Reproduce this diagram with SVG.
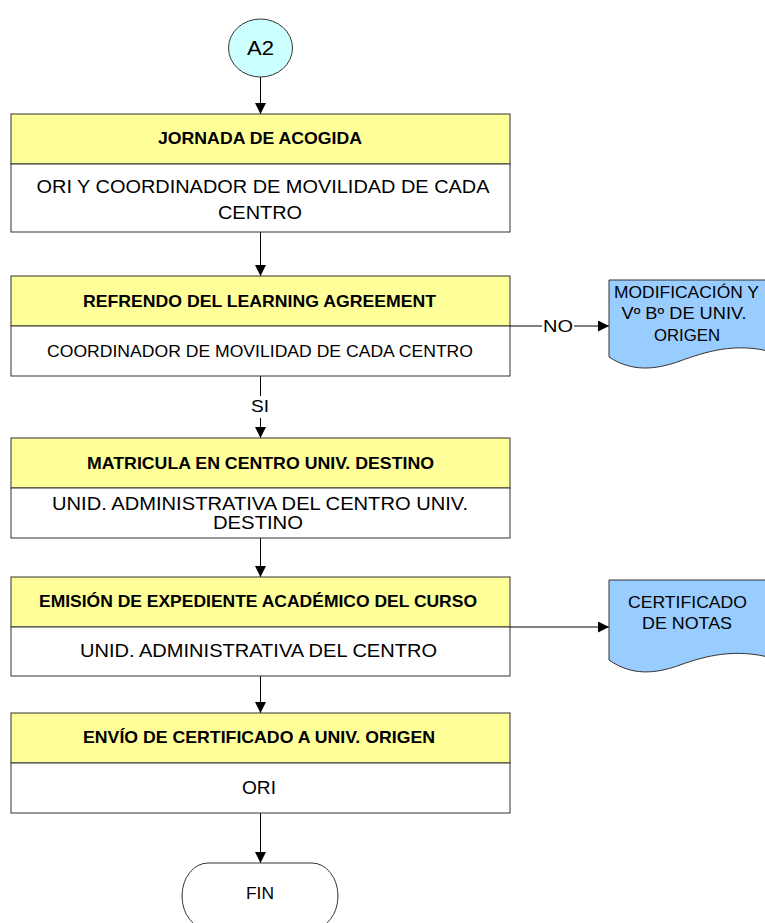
<svg xmlns="http://www.w3.org/2000/svg" width="765" height="923" viewBox="0 0 765 923">
<defs>
<marker id="arr" markerUnits="userSpaceOnUse" markerWidth="12" markerHeight="12" refX="11" refY="5.5" orient="auto">
<path d="M0,0 L11,5.5 L0,11 Z" fill="#000"/>
</marker>
<style>
.hd{fill:#FFFF99;stroke:#333;stroke-width:1}
.bd{fill:#FFFFFF;stroke:#333;stroke-width:1}
.doc{fill:#99CCFF;stroke:#333;stroke-width:1}
.ln{fill:none;stroke:#000;stroke-width:1}
.ar{fill:none;stroke:#000;stroke-width:1;marker-end:url(#arr)}
.t{font-family:"Liberation Sans",Arial,sans-serif;fill:#000;text-anchor:middle}
.ti{font-size:16.5px;font-weight:bold}
.b{font-size:17.5px}
.s{font-size:16.5px}
</style>
</defs>
<rect width="765" height="923" fill="#fff"/>
<g id="connectors">
<line class="ar" x1="260.5" y1="77" x2="260.5" y2="114"/>
<line class="ar" x1="260.5" y1="232" x2="260.5" y2="276"/>
<line class="ln" x1="260.5" y1="376" x2="260.5" y2="396"/>
<line class="ar" x1="260.5" y1="418" x2="260.5" y2="438"/>
<text class="t s" x="260" y="412" textLength="18" lengthAdjust="spacingAndGlyphs">SI</text>
<line class="ln" x1="510" y1="326" x2="542" y2="326"/>
<text class="t s" x="558" y="332" textLength="30" lengthAdjust="spacingAndGlyphs">NO</text>
<line class="ar" x1="574" y1="326" x2="609" y2="326"/>
<line class="ar" x1="260.5" y1="538" x2="260.5" y2="577"/>
<line class="ar" x1="510" y1="627" x2="609" y2="627"/>
<line class="ar" x1="260.5" y1="676" x2="260.5" y2="713"/>
<line class="ar" x1="260.5" y1="813" x2="260.5" y2="863"/>
</g>
<g id="start">
<ellipse cx="260.5" cy="48" rx="32" ry="29" fill="#CCFFFF" stroke="#333"/>
<text class="t" x="260.5" y="55" font-size="20" textLength="27" lengthAdjust="spacingAndGlyphs">A2</text>
</g>
<g id="n1">
<rect class="hd" x="11" y="114" width="499" height="50"/>
<rect class="bd" x="11" y="164" width="499" height="68"/>
<text class="t ti" x="260" y="144" textLength="204" lengthAdjust="spacingAndGlyphs">JORNADA DE ACOGIDA</text>
<text class="t b" x="263" y="193" textLength="453" lengthAdjust="spacingAndGlyphs">ORI Y COORDINADOR DE MOVILIDAD DE CADA</text>
<text class="t b" x="260" y="219" textLength="84" lengthAdjust="spacingAndGlyphs">CENTRO</text>
</g>
<g id="n2">
<rect class="hd" x="11" y="276" width="499" height="50"/>
<rect class="bd" x="11" y="326" width="499" height="50"/>
<text class="t ti" x="259.5" y="307" textLength="353" lengthAdjust="spacingAndGlyphs">REFRENDO DEL LEARNING AGREEMENT</text>
<text class="t b" x="260" y="357" textLength="426" lengthAdjust="spacingAndGlyphs" style="font-size:16.5px">COORDINADOR DE MOVILIDAD DE CADA CENTRO</text>
</g>
<g id="n3">
<rect class="hd" x="11" y="438" width="499" height="50"/>
<rect class="bd" x="11" y="488" width="499" height="50"/>
<text class="t ti" x="260.5" y="469" textLength="347" lengthAdjust="spacingAndGlyphs">MATRICULA EN CENTRO UNIV. DESTINO</text>
<text class="t b" x="260" y="510" textLength="416" lengthAdjust="spacingAndGlyphs">UNID. ADMINISTRATIVA DEL CENTRO UNIV.</text>
<text class="t b" x="258" y="529" textLength="90" lengthAdjust="spacingAndGlyphs">DESTINO</text>
</g>
<g id="n4">
<rect class="hd" x="11" y="577" width="499" height="50"/>
<rect class="bd" x="11" y="627" width="499" height="49"/>
<text class="t ti" x="258" y="607" textLength="438" lengthAdjust="spacingAndGlyphs">EMISIÓN DE EXPEDIENTE ACADÉMICO DEL CURSO</text>
<text class="t b" x="258.5" y="657" textLength="357" lengthAdjust="spacingAndGlyphs">UNID. ADMINISTRATIVA DEL CENTRO</text>
</g>
<g id="n5">
<rect class="hd" x="11" y="713" width="499" height="50"/>
<rect class="bd" x="11" y="763" width="499" height="50"/>
<text class="t ti" x="259" y="743" textLength="352" lengthAdjust="spacingAndGlyphs">ENVÍO DE CERTIFICADO A UNIV. ORIGEN</text>
<text class="t b" x="259" y="794" textLength="34" lengthAdjust="spacingAndGlyphs">ORI</text>
</g>
<g id="doc1">
<path class="doc" d="M609,280 H772 V352 C735,342 705,352 680,361 C655,370 632,372 609,357 Z"/>
<text class="t s" x="686.5" y="298" textLength="145" lengthAdjust="spacingAndGlyphs">MODIFICACIÓN Y</text>
<text class="t s" x="684" y="319" textLength="125" lengthAdjust="spacingAndGlyphs">Vº Bº DE UNIV.</text>
<text class="t s" x="687" y="341" textLength="66" lengthAdjust="spacingAndGlyphs">ORIGEN</text>
</g>
<g id="doc2">
<path class="doc" d="M609,580 H772 V658 C735,648 705,656 680,665 C655,674 632,676 609,660 Z"/>
<text class="t s" x="687.5" y="608" textLength="119" lengthAdjust="spacingAndGlyphs">CERTIFICADO</text>
<text class="t s" x="687" y="629" textLength="90" lengthAdjust="spacingAndGlyphs">DE NOTAS</text>
</g>
<g id="fin">
<rect x="182" y="863" width="156" height="66" rx="26" ry="33" fill="#fff" stroke="#333"/>
<text class="t s" x="260" y="899" textLength="28" lengthAdjust="spacingAndGlyphs">FIN</text>
</g>
</svg>
